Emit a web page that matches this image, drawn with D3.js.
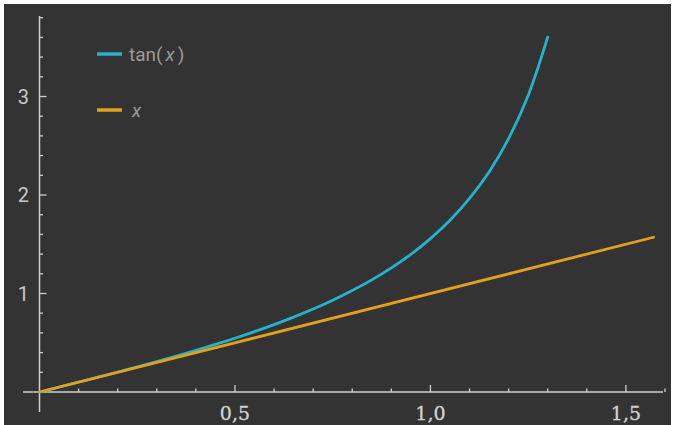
<!DOCTYPE html>
<html><head><meta charset="utf-8">
<script src="https://cdn.jsdelivr.net/npm/d3@7"></script>
<style>html,body{margin:0;padding:0;background:#fff;}svg{display:block;}</style>
</head><body>
<script>
// Data
const tanX = [0,0.05,0.1,0.15,0.2,0.25,0.3,0.35,0.4,0.45,0.5,0.55,0.6,0.65,0.7,0.75,0.8,0.85,0.9,0.95,1.0,1.05,1.1,1.15,1.2,1.25,1.3];
const tanY = [0,0.050,0.100,0.151,0.203,0.255,0.309,0.365,0.423,0.483,0.546,0.613,0.684,0.760,0.842,0.932,1.030,1.138,1.260,1.398,1.557,1.743,1.965,2.234,2.572,3.010,3.602];
const lineX = [0, 1.571];
const lineY = [0, 1.571];
const xMajorTicks = [0.5, 1.0, 1.5];
const xMajorLabels = ["0,5", "1,0", "1,5"];
const xMinorTicks = [0.1,0.2,0.3,0.4,0.6,0.7,0.8,0.9,1.1,1.2,1.3,1.4,1.6];
const yMajorTicks = [1, 2, 3];
const yMajorLabels = ["1", "2", "3"];
const yMinorTicks = [0.2,0.4,0.6,0.8,1.2,1.4,1.6,1.8,2.2,2.4,2.6,2.8,3.2,3.4,3.6,3.8];
const seriesNames = ["tan", "x"];

const W = 673, H = 425;
const svg = d3.select("body").append("svg").attr("width", W).attr("height", H);
svg.append("rect").attr("x", 4).attr("y", 4).attr("width", 667).attr("height", H - 4).attr("fill", "#333333");

const x = d3.scaleLinear().domain([0, 1.6]).range([39.5, 665]);
const y = d3.scaleLinear().domain([0, 3.8]).range([392, 17.7]);

const axisColor = "#cfcfcf";
svg.append("line").attr("x1", 23).attr("x2", 663).attr("y1", y(0)).attr("y2", y(0))
  .attr("stroke", axisColor).attr("stroke-width", 1.5);
svg.append("line").attr("x1", x(0)).attr("x2", x(0)).attr("y1", 16).attr("y2", 412)
  .attr("stroke", axisColor).attr("stroke-width", 1.5);

const gx = svg.append("g");
gx.selectAll(".mn").data(xMinorTicks).join("line")
  .attr("x1", d => x(d)).attr("x2", d => x(d)).attr("y1", y(0)).attr("y2", y(0) - 3.5)
  .attr("stroke", axisColor).attr("stroke-width", 1.3);
gx.selectAll(".mj").data(xMajorTicks).join("line")
  .attr("x1", d => x(d)).attr("x2", d => x(d)).attr("y1", y(0)).attr("y2", y(0) - 7)
  .attr("stroke", axisColor).attr("stroke-width", 1.3);
gx.selectAll("text").data(xMajorTicks).join("text")
  .attr("x", d => x(d)).attr("y", 420).attr("text-anchor", "middle")
  .attr("font-family", "DejaVu Serif").attr("font-size", 19).attr("fill", "#d2d2d2")
  .attr("stroke", "#d2d2d2").attr("stroke-width", 0.3)
  .text((d, i) => xMajorLabels[i]);

const gy = svg.append("g");
gy.selectAll(".mn").data(yMinorTicks).join("line")
  .attr("x1", x(0)).attr("x2", x(0) + 3.5).attr("y1", d => y(d)).attr("y2", d => y(d))
  .attr("stroke", axisColor).attr("stroke-width", 1.3);
gy.selectAll(".mj").data(yMajorTicks).join("line")
  .attr("x1", x(0)).attr("x2", x(0) + 7).attr("y1", d => y(d)).attr("y2", d => y(d))
  .attr("stroke", axisColor).attr("stroke-width", 1.3);
gy.selectAll("text").data(yMajorTicks).join("text")
  .attr("x", 29).attr("y", d => y(d) + 7).attr("text-anchor", "end")
  .attr("font-family", "Roboto").attr("font-size", 20).attr("fill", "#c8c8c8")
  .text((d, i) => yMajorLabels[i]);

const line = d3.line().x(d => x(d[0])).y(d => y(d[1])).curve(d3.curveCatmullRom);
svg.append("path").datum(tanX.map((v, i) => [v, tanY[i]])).attr("d", line)
  .attr("fill", "none").attr("stroke", "#23b3ca").attr("stroke-width", 2.8).attr("stroke-linecap", "round");
svg.append("path").datum(lineX.map((v, i) => [v, lineY[i]])).attr("d", line)
  .attr("fill", "none").attr("stroke", "#e3a01c").attr("stroke-width", 2.8).attr("stroke-linecap", "round");

// legend
const lg = svg.append("g");
lg.append("line").attr("x1", 97).attr("x2", 122).attr("y1", 54).attr("y2", 54)
  .attr("stroke", "#23b3ca").attr("stroke-width", 3.5);
const t1 = lg.append("text").attr("x", 129).attr("y", 61).attr("font-family", "Roboto")
  .attr("font-size", 19).attr("fill", "#9a9a9a");
t1.append("tspan").text(seriesNames[0] + "(");
t1.append("tspan").attr("font-style", "italic").attr("dx", 3).text("x");
t1.append("tspan").attr("dx", 3).text(")");
lg.append("line").attr("x1", 97).attr("x2", 122).attr("y1", 110).attr("y2", 110)
  .attr("stroke", "#e3a01c").attr("stroke-width", 3.5);
lg.append("text").attr("x", 132).attr("y", 117).attr("font-family", "Roboto")
  .attr("font-size", 19).attr("font-style", "italic").attr("fill", "#9a9a9a").text(seriesNames[1]);
</script>
</body></html>
